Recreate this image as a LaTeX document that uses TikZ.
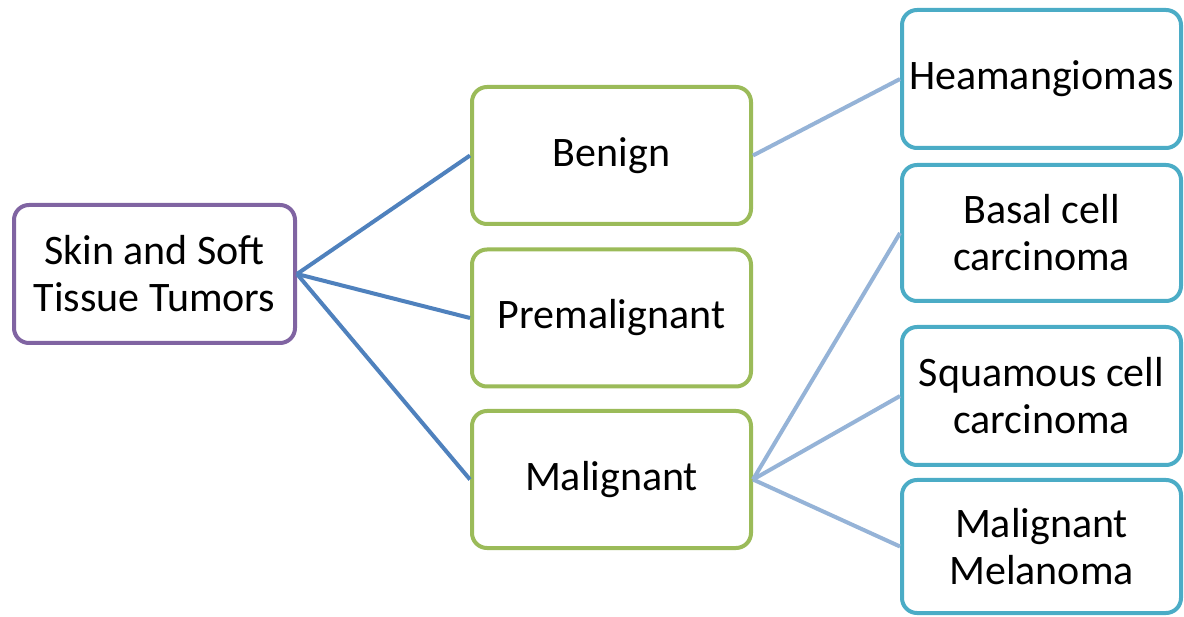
\documentclass[tikz,border=0pt]{standalone}
\usepackage{fontspec}
\setmainfont{Carlito}
\definecolor{rootc}{HTML}{8064A2}
\definecolor{midc}{HTML}{9BBB59}
\definecolor{leafc}{HTML}{4BACC6}
\definecolor{linea}{HTML}{4F81BD}
\definecolor{lineb}{HTML}{95B3D7}
\begin{document}
\begin{tikzpicture}[x=1pt,y=-1pt,
  box/.style={draw, line width=4pt, rounded corners=15pt, fill=white, align=center,
    inner sep=0pt, font=\fontsize{42}{47}\selectfont},
  rootbox/.style={box, draw=rootc, minimum width=281pt, minimum height=138pt},
  midbox/.style={box, draw=midc, minimum width=279pt, minimum height=137pt},
  leafbox/.style={box, draw=leafc, minimum width=279pt},
  conA/.style={draw=linea, line width=4pt},
  conB/.style={draw=lineb, line width=4pt}]
\useasboundingbox (0,0) rectangle (1184,617);
\node[rootbox] (root) at (154.5,274) {Skin and Soft\\Tissue Tumors};
\node[midbox] (ben) at (611.5,155.5) {Benign};
\node[midbox] (pre) at (611.5,318) {Premalignant};
\node[midbox] (mal) at (611.5,479.5) {Malignant};
\node[leafbox, minimum height=138pt] (hea) at (1041.5,79) {Heamangiomas};
\node[leafbox, minimum height=136pt] (bas) at (1041.5,233) {Basal cell\\carcinoma};
\node[leafbox, minimum height=138pt] (squ) at (1041.5,396) {Squamous cell\\carcinoma};
\node[leafbox, minimum height=133pt] (mel) at (1041.5,546.5) {Malignant\\Melanoma};
\draw[conA] (root.east) -- (ben.west);
\draw[conA] (root.east) -- (pre.west);
\draw[conA] (root.east) -- (mal.west);
\draw[conB] (ben.east) -- (hea.west);
\draw[conB] (mal.east) -- (bas.west);
\draw[conB] (mal.east) -- (squ.west);
\draw[conB] (mal.east) -- (mel.west);
\end{tikzpicture}
\end{document}
